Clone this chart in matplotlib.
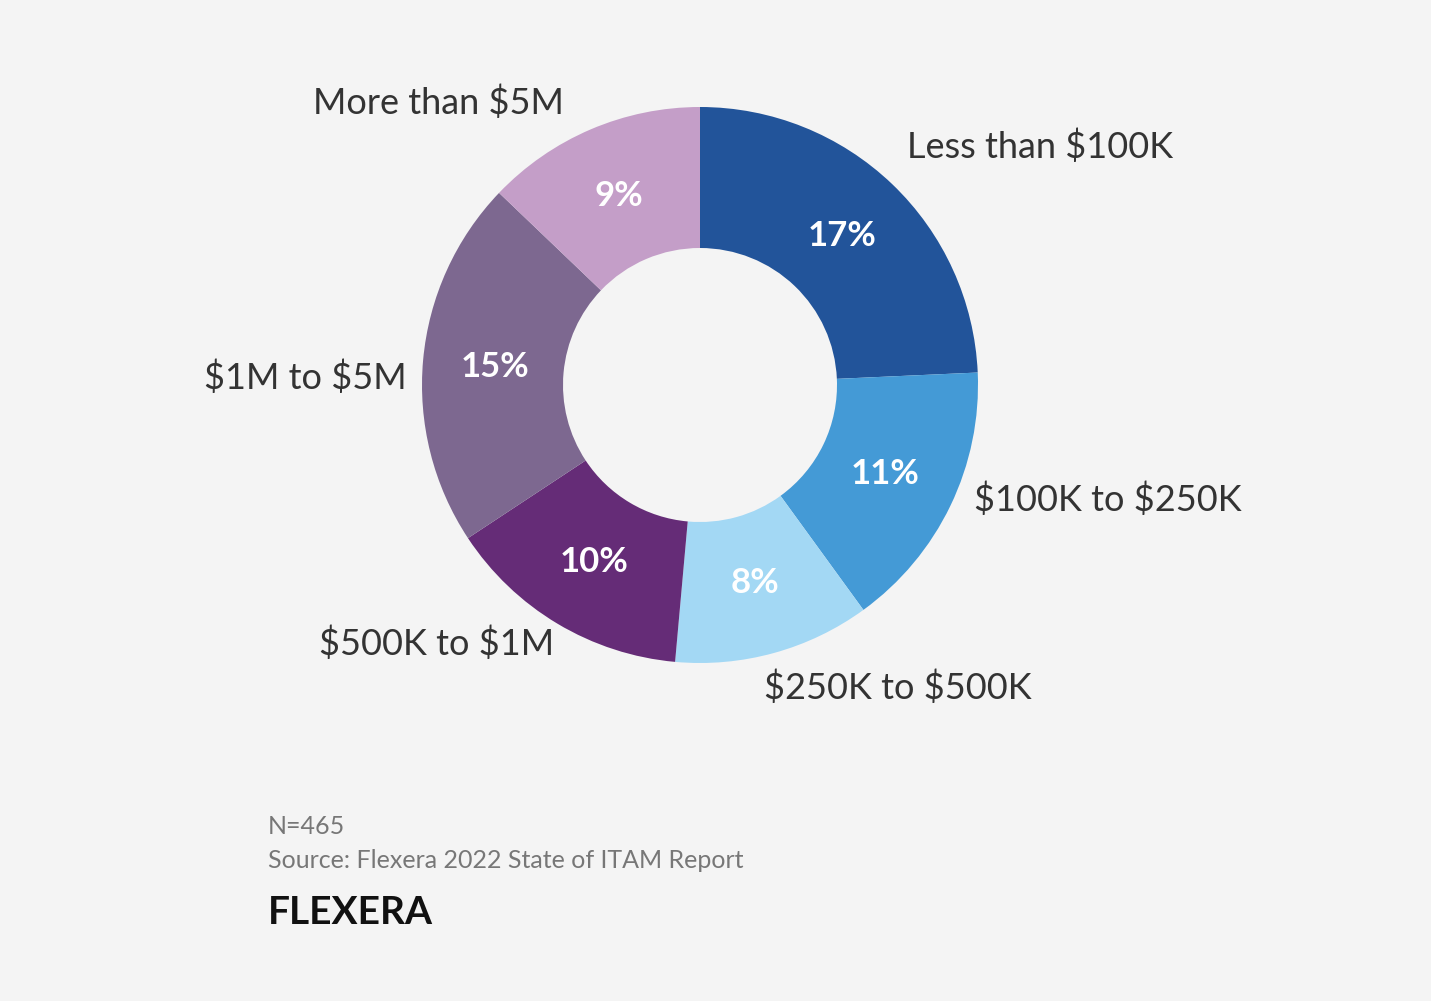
import matplotlib
matplotlib.use("Agg")
import matplotlib.pyplot as plt
import numpy as np
plt.rcParams['text.parse_math'] = False

categories = ["Less than $100K", "$100K to $250K", "$250K to $500K",
              "$500K to $1M", "$1M to $5M", "More than $5M"]
values = [17, 11, 8, 10, 15, 9]
colors = ["#22549a", "#449ad6", "#a3d8f4", "#652c77", "#7d6890", "#c49ec8"]
label_pos = [(1040, 147), (1108, 500), (898, 688), (437, 644), (305, 378), (438, 103)]

W, H = 1431, 1001
fig = plt.figure(figsize=(W/100, H/100), dpi=100, facecolor="#f4f4f4")
ax = fig.add_axes([0, 0, 1, 1])
ax.set_facecolor("#f4f4f4")

cx, cy, R = 700, H - 385, 278
wedges, texts = ax.pie(values, colors=colors, startangle=90, counterclock=False,
                       center=(cx, cy), radius=R, frame=True,
                       wedgeprops=dict(width=R-137, linewidth=0))
ax.set_xlim(0, W); ax.set_ylim(0, H); ax.set_aspect("equal"); ax.axis("off")

fam = ["Lato", "DejaVu Sans"]
for w, v in zip(wedges, values):
    ang = np.deg2rad((w.theta1 + w.theta2) / 2)
    r = 0.74 * R
    ax.text(cx + r*np.cos(ang), cy + r*np.sin(ang), f"{v}%", ha="center", va="center",
            color="white", fontsize=25, fontweight="bold", family=fam)
for c, (x, y) in zip(categories, label_pos):
    ax.text(x, H - y, c, ha="center", va="center", color="#333333", fontsize=26, family=fam)

ax.text(268, H - 826, "N=465", ha="left", va="center", color="#777777", fontsize=18, family=fam)
ax.text(268, H - 860, "Source: Flexera 2022 State of ITAM Report", ha="left", va="center",
        color="#777777", fontsize=18, family=fam)
ax.text(268, H - 913, "FLEXERA", ha="left", va="center", color="#111111", fontsize=28,
        family=fam, fontweight="bold", fontstretch="expanded")
fig.savefig("out.png", dpi=100, facecolor=fig.get_facecolor())
